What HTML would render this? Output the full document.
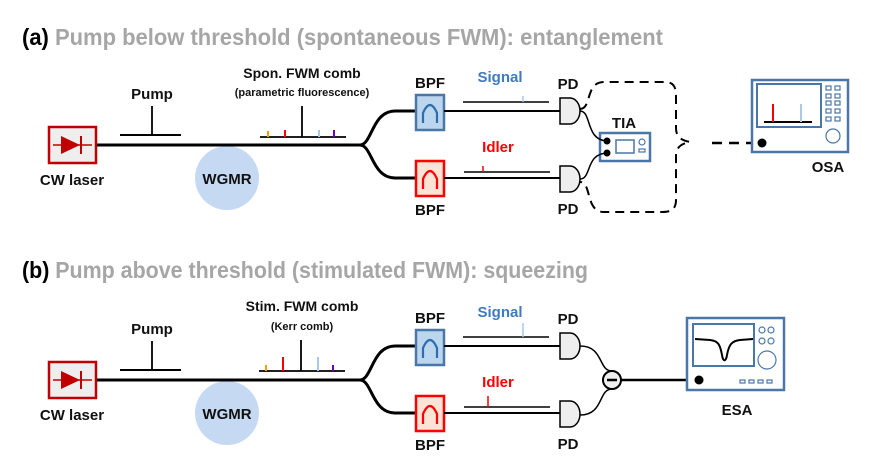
<!DOCTYPE html>
<html><head><meta charset="utf-8"><style>
html,body{margin:0;padding:0;background:#fff;}
svg{display:block;}
text{font-family:"Liberation Sans",Arial,sans-serif;font-weight:bold;}
</style></head><body>
<svg width="872" height="463" viewBox="0 0 872 463" xmlns="http://www.w3.org/2000/svg">
<defs>
<g id="laser">
 <rect x="49" y="127" width="47" height="36" fill="#eee" stroke="#c00000" stroke-width="2.5"/>
 <line x1="53" y1="145" x2="92" y2="145" stroke="#c00000" stroke-width="1.5"/>
 <polygon points="61,136 61,154 80,145" fill="#c00000"/>
 <line x1="81" y1="136" x2="81" y2="154" stroke="#c00000" stroke-width="2"/>
</g>
<g id="common">
 <use href="#laser"/>
 <text x="72" y="185" font-size="15" text-anchor="middle" fill="#111">CW laser</text>
 <circle cx="227" cy="178" r="32" fill="#c6d9f3"/>
 <text x="227" y="184" font-size="15" text-anchor="middle" fill="#111">WGMR</text>
 <path d="M97 145 L360 145 C372 145 372 111 395 111 L416 111 M360 145 C372 145 372 178 395 178 L416 178" fill="none" stroke="#000" stroke-width="3"/>
 <line x1="120" y1="135" x2="181" y2="135" stroke="#000" stroke-width="2"/>
 <text x="152" y="99" font-size="15" text-anchor="middle" fill="#111">Pump</text>
 <!-- BPFs -->
 <rect x="416" y="95" width="28" height="35" fill="#bcd6ee" stroke="#4a77a8" stroke-width="2.5"/>
 <path d="M423 123 L423 113 Q430 97 437 113 L437 123" fill="none" stroke="#2e6db0" stroke-width="2.2"/>
 <rect x="416" y="161" width="28" height="35" fill="#fbe3d6" stroke="#ff0000" stroke-width="2.5"/>
 <path d="M423 189 L423 179 Q430 163 437 179 L437 189" fill="none" stroke="#ff0000" stroke-width="2.2"/>
 <text x="430" y="88" font-size="15" text-anchor="middle" fill="#111">BPF</text>
 <text x="430" y="215" font-size="15" text-anchor="middle" fill="#111">BPF</text>
 <line x1="444" y1="111" x2="560" y2="111" stroke="#000" stroke-width="2"/>
 <line x1="444" y1="178" x2="560" y2="178" stroke="#000" stroke-width="2"/>
 <!-- PDs -->
 <path d="M560 98 L570 98 A10 13 0 0 1 570 124 L560 124 Z" fill="#eee" stroke="#000" stroke-width="1.5"/>
 <path d="M560 166 L570 166 A10 13 0 0 1 570 192 L560 192 Z" fill="#eee" stroke="#000" stroke-width="1.5"/>
 <text x="568" y="89" font-size="15" text-anchor="middle" fill="#111">PD</text>
 <text x="568" y="214" font-size="15" text-anchor="middle" fill="#111">PD</text>
 <!-- spectra -->
 <line x1="463" y1="102" x2="549" y2="102" stroke="#000" stroke-width="1.5"/>
 <text x="500" y="82" font-size="15" text-anchor="middle" fill="#3e7bbf">Signal</text>
 <line x1="464" y1="172" x2="550" y2="172" stroke="#000" stroke-width="1.5"/>
 <text x="498" y="152" font-size="15" text-anchor="middle" fill="#ff0000">Idler</text>
</g>
</defs>

<!-- Panel a -->
<text x="22" y="45" font-size="23" textLength="641" lengthAdjust="spacingAndGlyphs" fill="#a6a6a6"><tspan fill="#000">(a)</tspan> Pump below threshold (spontaneous FWM): entanglement</text>
<use href="#common"/>
<line x1="152" y1="106" x2="152" y2="135" stroke="#000" stroke-width="1.8"/>
<text x="302" y="78" font-size="14" text-anchor="middle" fill="#111">Spon. FWM comb</text>
<text x="302" y="96" font-size="11" text-anchor="middle" fill="#111">(parametric fluorescence)</text>
<line x1="260" y1="137" x2="346" y2="137" stroke="#000" stroke-width="1.8"/>
<line x1="302" y1="106" x2="302" y2="137" stroke="#000" stroke-width="1.8"/>
<line x1="268" y1="131" x2="268" y2="137" stroke="#f5a000" stroke-width="2"/>
<line x1="285" y1="130" x2="285" y2="137" stroke="#ff0000" stroke-width="2"/>
<line x1="319" y1="130" x2="319" y2="137" stroke="#a9c9ea" stroke-width="2"/>
<line x1="334" y1="130" x2="334" y2="137" stroke="#6a00c8" stroke-width="2"/>
<line x1="523" y1="96" x2="523" y2="102" stroke="#a9c9ea" stroke-width="1.5"/>
<line x1="483" y1="166" x2="483" y2="172" stroke="#ff0000" stroke-width="1.5"/>
<!-- TIA -->
<rect x="600" y="133" width="50" height="28" fill="#fff" stroke="#4a77a8" stroke-width="2.5"/>
<rect x="616" y="140" width="18" height="13" fill="none" stroke="#4a77a8" stroke-width="1.5"/>
<circle cx="642" cy="142" r="3" fill="none" stroke="#4a77a8" stroke-width="1.2"/>
<rect x="639" y="149" width="6" height="3" fill="none" stroke="#4a77a8" stroke-width="1.2"/>
<text x="624" y="128" font-size="15" text-anchor="middle" fill="#111">TIA</text>
<path d="M580 111 C592 111 585 141 608 141" fill="none" stroke="#000" stroke-width="1.5"/>
<path d="M580 179 C592 179 585 153 608 153" fill="none" stroke="#000" stroke-width="1.5"/>
<circle cx="607" cy="141" r="3.5" fill="#000"/>
<circle cx="607" cy="153" r="3.5" fill="#000"/>
<path d="M580 109 C592 109 585 82 604 82 L665 82 C676 82 676 90 676 100 L676 128 C676 136 680 140 690 142 C680 144 676 148 676 156 L676 200 C676 210 670 212 662 212 L604 212 C585 212 592 182 580 182" fill="none" stroke="#000" stroke-width="2" stroke-dasharray="9,6"/>
<line x1="712" y1="143" x2="762" y2="143" stroke="#000" stroke-width="2.5" stroke-dasharray="10,7"/>
<!-- OSA -->
<rect x="752" y="80" width="96" height="72" fill="#fff" stroke="#4a77a8" stroke-width="2.5"/>
<rect x="757" y="84" width="64" height="43" fill="#fff" stroke="#4a77a8" stroke-width="2"/>
<line x1="764" y1="122" x2="812" y2="122" stroke="#000" stroke-width="2"/>
<line x1="773" y1="104" x2="773" y2="122" stroke="#ff0000" stroke-width="2"/>
<line x1="801" y1="104" x2="801" y2="122" stroke="#a9c9ea" stroke-width="2"/>
<g fill="none" stroke="#4a77a8" stroke-width="1.2">
<rect x="826" y="86" width="5" height="4"/><rect x="835" y="86" width="5" height="4"/>
<rect x="826" y="94" width="5" height="4"/><rect x="835" y="94" width="5" height="4"/>
<rect x="826" y="101" width="5" height="4"/><rect x="835" y="101" width="5" height="4"/>
<rect x="826" y="109" width="5" height="4"/><rect x="835" y="109" width="5" height="4"/>
<rect x="826" y="117" width="5" height="4"/><rect x="835" y="117" width="5" height="4"/>
<circle cx="833" cy="136" r="7"/>
</g>
<circle cx="762" cy="143" r="4.5" fill="#000"/>
<text x="828" y="172" font-size="15" text-anchor="middle" fill="#111">OSA</text>

<!-- Panel b -->
<text x="22" y="278" font-size="23" textLength="566" lengthAdjust="spacingAndGlyphs" fill="#a6a6a6"><tspan fill="#000">(b)</tspan> Pump above threshold (stimulated FWM): squeezing</text>
<use href="#common" transform="translate(0,235)"/>
<line x1="152" y1="341" x2="152" y2="370" stroke="#000" stroke-width="1.8"/>
<text x="302" y="311" font-size="14" text-anchor="middle" fill="#111">Stim. FWM comb</text>
<text x="302" y="330" font-size="11" text-anchor="middle" fill="#111">(Kerr comb)</text>
<line x1="259" y1="371" x2="345" y2="371" stroke="#000" stroke-width="1.8"/>
<line x1="301" y1="340" x2="301" y2="371" stroke="#000" stroke-width="1.8"/>
<line x1="266" y1="365" x2="266" y2="371" stroke="#f5a000" stroke-width="2"/>
<line x1="283" y1="357" x2="283" y2="371" stroke="#ff0000" stroke-width="2"/>
<line x1="318" y1="357" x2="318" y2="371" stroke="#a9c9ea" stroke-width="2"/>
<line x1="333" y1="365" x2="333" y2="371" stroke="#6a00c8" stroke-width="2"/>
<line x1="523" y1="323" x2="523" y2="337" stroke="#a9c9ea" stroke-width="1.5"/>
<line x1="488" y1="396" x2="488" y2="407" stroke="#ff0000" stroke-width="1.5"/>
<path d="M580 346 C604 346 598 371 612 371" fill="none" stroke="#000" stroke-width="1.5"/>
<path d="M580 415 C604 415 598 389 612 389" fill="none" stroke="#000" stroke-width="1.5"/>
<circle cx="612" cy="380" r="9" fill="#eee" stroke="#000" stroke-width="2"/>
<line x1="607" y1="380" x2="617" y2="380" stroke="#000" stroke-width="2.5"/>
<line x1="621" y1="380" x2="699" y2="380" stroke="#000" stroke-width="2.5"/>
<!-- ESA -->
<rect x="687" y="318" width="97" height="72" fill="#fff" stroke="#4a77a8" stroke-width="2.5"/>
<rect x="693" y="324" width="61" height="42" fill="#fff" stroke="#4a77a8" stroke-width="2"/>
<path d="M695 339 L710 340 C718 341 720 344 722 355 C723 362 726 362 727 355 C729 344 732 341 740 340 L753 339" fill="none" stroke="#000" stroke-width="2"/>
<g fill="none" stroke="#4a77a8" stroke-width="1.2">
<circle cx="762" cy="330" r="3"/><circle cx="771" cy="330" r="3"/>
<circle cx="762" cy="341" r="3"/><circle cx="771" cy="341" r="3"/>
<circle cx="767" cy="360" r="9"/>
<rect x="740" y="380" width="5" height="3"/><rect x="749" y="380" width="5" height="3"/>
<rect x="758" y="380" width="5" height="3"/><rect x="767" y="380" width="5" height="3"/>
</g>
<circle cx="699" cy="380" r="4.5" fill="#000"/>
<text x="737" y="415" font-size="15" text-anchor="middle" fill="#111">ESA</text>
</svg>
</body></html>
